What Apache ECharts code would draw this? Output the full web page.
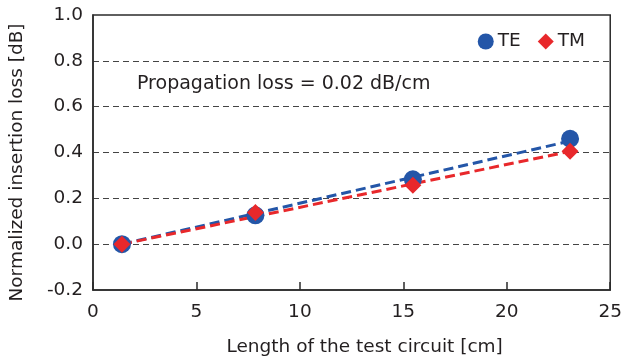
<!DOCTYPE html>
<html><head><meta charset="utf-8">
<script src="https://cdn.jsdelivr.net/npm/echarts@6/dist/echarts.min.js"></script>
<style>html,body{margin:0;padding:0;background:#fff}#c{width:625px;height:362px}</style>
</head><body><div id="c"></div>
<script>
const lengths = [1.4, 7.85, 15.46, 23.06];
const teLoss = [0.0, 0.126, 0.283, 0.46];
const tmLoss = [0.0, 0.138, 0.257, 0.406];
const fitX = [1.4, 23.06];
const teFit = [0.0, 0.45];
const tmFit = [0.0, 0.405];
const yTicks = [-0.2, 0.0, 0.2, 0.4, 0.6, 0.8, 1.0];
const xTicks = [0, 5, 10, 15, 20, 25];
const annotation = 'Propagation loss = 0.02 dB/cm';

const BLUE = '#2456a8', RED = '#e8282b', TXT = '#231f20', FONT = '"DejaVu Sans", sans-serif', FS = 18.5;
const zip = (xs, ys) => xs.map((x, i) => [x, ys[i]]);
const chart = echarts.init(document.getElementById('c'), null, {renderer: 'canvas'});
chart.setOption({
  animation: false,
  textStyle: {fontFamily: FONT, color: TXT},
  grid: {left: 92.7, right: 12.3, top: 15, bottom: 71, show: true, borderColor: '#2b2b2b', borderWidth: 1.5, containLabel: false},
  legend: {
    right: 35, top: 27, itemWidth: 16, itemHeight: 16, itemGap: 17,
    textStyle: {fontSize: FS, color: TXT, fontFamily: FONT, padding: [0, 0, 0, -1]},
    data: [{name: 'TE', icon: 'circle'}, {name: 'TM', icon: 'diamond'}]
  },
  graphic: [{type: 'text', left: 137, top: 75, style: {text: annotation, font: '19px ' + FONT, fill: TXT}}],
  xAxis: {
    type: 'value', min: xTicks[0], max: xTicks[xTicks.length - 1], interval: 5,
    name: 'Length of the test circuit [cm]', nameLocation: 'middle', nameGap: 48,
    nameTextStyle: {fontSize: FS, color: TXT, fontFamily: FONT, padding: [0, 0, 0, 26]},
    axisLine: {onZero: false, lineStyle: {color: '#2b2b2b', width: 1.5}},
    axisTick: {inside: true, length: 8, lineStyle: {color: '#2b2b2b', width: 1.5}},
    axisLabel: {fontSize: FS, color: TXT, margin: 13, fontFamily: FONT},
    splitLine: {show: false}
  },
  yAxis: {
    type: 'value', min: yTicks[0], max: yTicks[yTicks.length - 1], interval: 0.2,
    name: 'Normalized insertion loss [dB]', nameLocation: 'middle', nameGap: 66,
    nameTextStyle: {fontSize: FS, color: TXT, fontFamily: FONT, padding: [0, 20, 0, 0]},
    axisLine: {show: true, onZero: false, lineStyle: {color: '#2b2b2b', width: 1.5}},
    axisTick: {show: false},
    axisLabel: {fontSize: FS, color: TXT, margin: 10, fontFamily: FONT, formatter: v => v.toFixed(1)},
    splitLine: {show: true, showMinLine: false, showMaxLine: false, lineStyle: {color: '#444', type: [6, 4], width: 1}}
  },
  series: [
    {name: 'TE fit', type: 'line', data: zip(fitX, teFit), symbol: 'none', lineStyle: {color: BLUE, width: 3, type: [10, 5]}, z: 2},
    {name: 'TM fit', type: 'line', data: zip(fitX, tmFit), symbol: 'none', lineStyle: {color: RED, width: 3, type: [10, 5]}, z: 3},
    {name: 'TE', type: 'scatter', data: zip(lengths, teLoss), symbol: 'circle', symbolSize: 18, itemStyle: {color: BLUE, opacity: 1}, z: 4},
    {name: 'TM', type: 'scatter', data: zip(lengths, tmLoss), symbol: 'diamond', symbolSize: 17, itemStyle: {color: RED, opacity: 1}, z: 5}
  ]
});
</script></body></html>
